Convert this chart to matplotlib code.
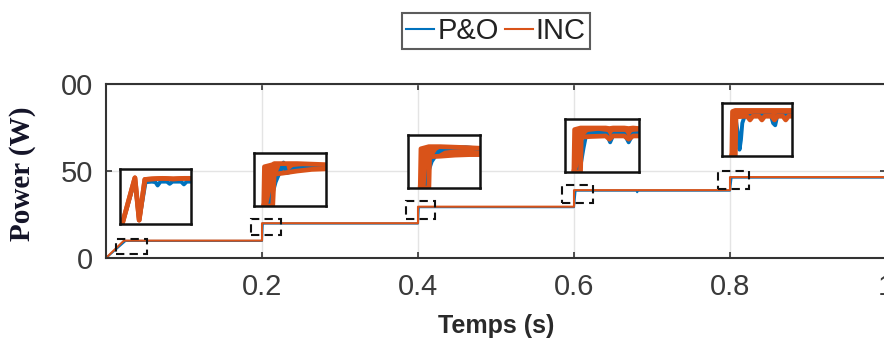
import matplotlib
matplotlib.use('Agg')
import matplotlib.pyplot as plt
from matplotlib import font_manager
from matplotlib.patches import Rectangle

# main traces (time in s, power in W)
t_inc = [0, 0.023, 0.2, 0.2, 0.4, 0.4, 0.6, 0.6, 0.8, 0.8, 1.0]
p_inc = [0, 10, 10, 20, 20, 29.5, 29.5, 39, 39, 46.5, 46.5]
t_po = [0, 0.025, 0.2, 0.201, 0.4, 0.401, 0.6, 0.602, 0.68, 0.681, 0.682, 0.8, 0.802, 1.0]
p_po = [0, 9.8, 9.8, 19.8, 19.8, 29.2, 29.2, 38.7, 38.7, 37.8, 38.7, 38.7, 46.2, 46.2]

# dashed zoom windows
box_t0 = [0.013, 0.186, 0.384, 0.584, 0.785]
box_t1 = [0.053, 0.224, 0.422, 0.624, 0.824]
box_p0 = [2.3, 13.2, 22.4, 31.6, 39.7]
box_p1 = [10.9, 22.4, 32.8, 42.0, 50.0]

# zoomed views, normalised to each window
inc_zoom_x = [
    [0.04, 0.21, 0.27, 0.35, 0.45, 0.60, 0.75, 0.90, 1.0],
    [0.135, 0.145, 0.26, 0.28, 0.40, 0.60, 0.80, 1.0],
    [0.17, 0.18, 0.29, 0.30, 0.45, 0.65, 0.85, 1.0],
    [0.12, 0.13, 0.21, 0.22, 0.35, 0.55, 0.60, 0.65, 0.80, 0.86, 0.92, 1.0],
    [0.14, 0.15, 0.19, 0.20, 0.36, 0.40, 0.44, 0.53, 0.57, 0.61, 0.71, 0.75, 0.79, 0.87, 0.91, 0.95, 1.0],
]
inc_zoom_lo = [
    [0.04, 0.84, 0.07, 0.81, 0.82, 0.83, 0.82, 0.83, 0.83],
    [0.0, 0.0, 0.0, 0.60, 0.62, 0.66, 0.69, 0.70],
    [0.0, 0.0, 0.0, 0.59, 0.60, 0.62, 0.63, 0.63],
    [0.0, 0.0, 0.0, 0.66, 0.67, 0.68, 0.62, 0.68, 0.68, 0.62, 0.68, 0.68],
    [0.0, 0.0, 0.0, 0.74, 0.75, 0.68, 0.75, 0.75, 0.68, 0.75, 0.75, 0.68, 0.75, 0.75, 0.68, 0.75, 0.75],
]
inc_zoom_hi = [
    [0.04, 0.84, 0.07, 0.81, 0.82, 0.83, 0.82, 0.83, 0.83],
    [0.0, 0.74, 0.78, 0.80, 0.80, 0.80, 0.79, 0.78],
    [0.0, 0.74, 0.78, 0.78, 0.78, 0.77, 0.76, 0.75],
    [0.0, 0.80, 0.83, 0.83, 0.83, 0.83, 0.82, 0.83, 0.83, 0.82, 0.83, 0.82],
    [0.0, 0.84, 0.86, 0.86, 0.86, 0.86, 0.86, 0.86, 0.86, 0.86, 0.86, 0.86, 0.86, 0.86, 0.86, 0.86, 0.86],
]
po_zoom_x = [
    [0.04, 0.21, 0.27, 0.36, 0.45, 0.50, 0.53, 0.57, 0.66, 0.70, 0.74, 0.86, 0.90, 0.94, 1.0],
    [0.14, 0.22, 0.26, 0.30, 0.34, 0.38, 0.41, 0.45, 0.50, 0.55, 0.70, 0.85, 1.0],
    [0.17, 0.27, 0.29, 0.33, 0.37, 0.42, 0.50, 0.62, 0.80, 1.0],
    [0.12, 0.18, 0.21, 0.25, 0.28, 0.32, 0.45, 0.56, 0.61, 0.66, 0.80, 0.86, 0.92, 1.0],
    [0.14, 0.17, 0.20, 0.23, 0.25, 0.27, 0.29, 0.32, 0.45, 0.70, 0.73, 0.76, 0.79, 1.0],
]
po_zoom_y = [
    [0.04, 0.80, 0.07, 0.76, 0.77, 0.76, 0.70, 0.77, 0.77, 0.73, 0.77, 0.77, 0.72, 0.77, 0.77],
    [0.0, 0.0, 0.25, 0.45, 0.58, 0.70, 0.82, 0.62, 0.64, 0.70, 0.72, 0.72, 0.73],
    [0.0, 0.0, 0.34, 0.50, 0.58, 0.68, 0.74, 0.76, 0.77, 0.74],
    [0.0, 0.0, 0.12, 0.45, 0.66, 0.72, 0.74, 0.72, 0.56, 0.72, 0.72, 0.56, 0.72, 0.73],
    [0.0, 0.74, 0.66, 0.40, 0.12, 0.30, 0.62, 0.74, 0.76, 0.76, 0.62, 0.58, 0.76, 0.76],
]

x_ticks = [0.2, 0.4, 0.6, 0.8, 1.0]
x_ticklabels = ['0.2', '0.4', '0.6', '0.8', '1']
y_ticks = [0, 50, 100]
y_ticklabels = ['0', '50', '00']

BLUE = '#0072BD'
ORANGE = '#D95319'
W, H = 884, 345

names = {f.name for f in font_manager.fontManager.ttflist}
if 'Liberation Sans Narrow' in names:
    tick_font, tick_size, lab_size = 'Liberation Sans Narrow', 24, 21
else:
    tick_font, tick_size, lab_size = 'Liberation Sans', 21, 18

fig = plt.figure(figsize=(W / 100, H / 100), dpi=100)
ax = fig.add_axes([106 / W, (H - 258) / H, (886 - 106) / W, (258 - 84) / H])

l_po, = ax.plot(t_po, p_po, color=BLUE, lw=1.5, label='P&O')
l_inc, = ax.plot(t_inc, p_inc, color=ORANGE, lw=1.5, label='INC')

for a, b, c, d in zip(box_t0, box_t1, box_p0, box_p1):
    ax.add_patch(Rectangle((a, c), b - a, d - c, fill=False, ec='#111111',
                           lw=1.5, ls=(0, (4, 2.5)), zorder=4))

ax.set_xlim(0, 1)
ax.set_ylim(0, 100)
ax.set_xticks(x_ticks)
ax.set_xticklabels(x_ticklabels)
ax.set_yticks(y_ticks)
ax.set_yticklabels(y_ticklabels)
ax.grid(True, color='#e4e4e4', lw=1.0)
ax.set_axisbelow(True)
ax.tick_params(direction='in', length=4, width=1.2, color='#333333',
               top=True, right=True, labelcolor='#3a3a3a', pad=9)
ax.tick_params(axis='x', pad=11)
for lab in ax.get_xticklabels() + ax.get_yticklabels():
    lab.set_fontfamily(tick_font)
    lab.set_fontsize(tick_size)
for sp in ax.spines.values():
    sp.set_color('#333333')
    sp.set_linewidth(1.5)

ax.set_xlabel('Temps (s)', fontfamily=tick_font, fontsize=lab_size,
              fontweight='bold', color='#2a2a2a', labelpad=9)
fig.text(23 / W, 1 - 174 / H, 'Power (W)', rotation=90, ha='center', va='center',
         fontfamily='Liberation Serif', fontweight='bold', fontsize=21, color='#141428')

# zoom insets
inset_px = [(120, 169, 191, 224), (254, 153, 326, 206), (408, 135, 480, 188),
            (565, 119, 639, 172), (722, 103, 792, 156)]
for i, (x0, y0, x1, y1) in enumerate(inset_px):
    ia = fig.add_axes([x0 / W, (H - y1) / H, (x1 - x0) / W, (y1 - y0) / H])
    ia.plot(po_zoom_x[i], po_zoom_y[i], color=BLUE, lw=2.8, solid_capstyle='butt')
    ia.fill_between(inc_zoom_x[i], inc_zoom_lo[i], inc_zoom_hi[i], color=ORANGE, lw=0)
    ia.plot(inc_zoom_x[i], inc_zoom_hi[i], color=ORANGE, lw=3.4)
    ia.plot(inc_zoom_x[i], inc_zoom_lo[i], color=ORANGE, lw=3.4)
    ia.set_xlim(0, 1)
    ia.set_ylim(0, 1)
    ia.set_xticks([])
    ia.set_yticks([])
    for sp in ia.spines.values():
        sp.set_color('#111111')
        sp.set_linewidth(1.8)

leg = fig.legend(handles=[l_po, l_inc], loc='center', bbox_to_anchor=(496 / W, 1 - 31 / H),
                 ncol=2, fontsize=21, frameon=True, fancybox=False, handlelength=0.97,
                 handletextpad=0.1, columnspacing=0.2, borderpad=0.15, borderaxespad=0)
leg.get_frame().set_edgecolor('#333333')
leg.get_frame().set_linewidth(1.5)
for txt in leg.get_texts():
    txt.set_color('#222222')
    txt.set_fontfamily('Liberation Sans')

fig.savefig('out.png', dpi=100)
